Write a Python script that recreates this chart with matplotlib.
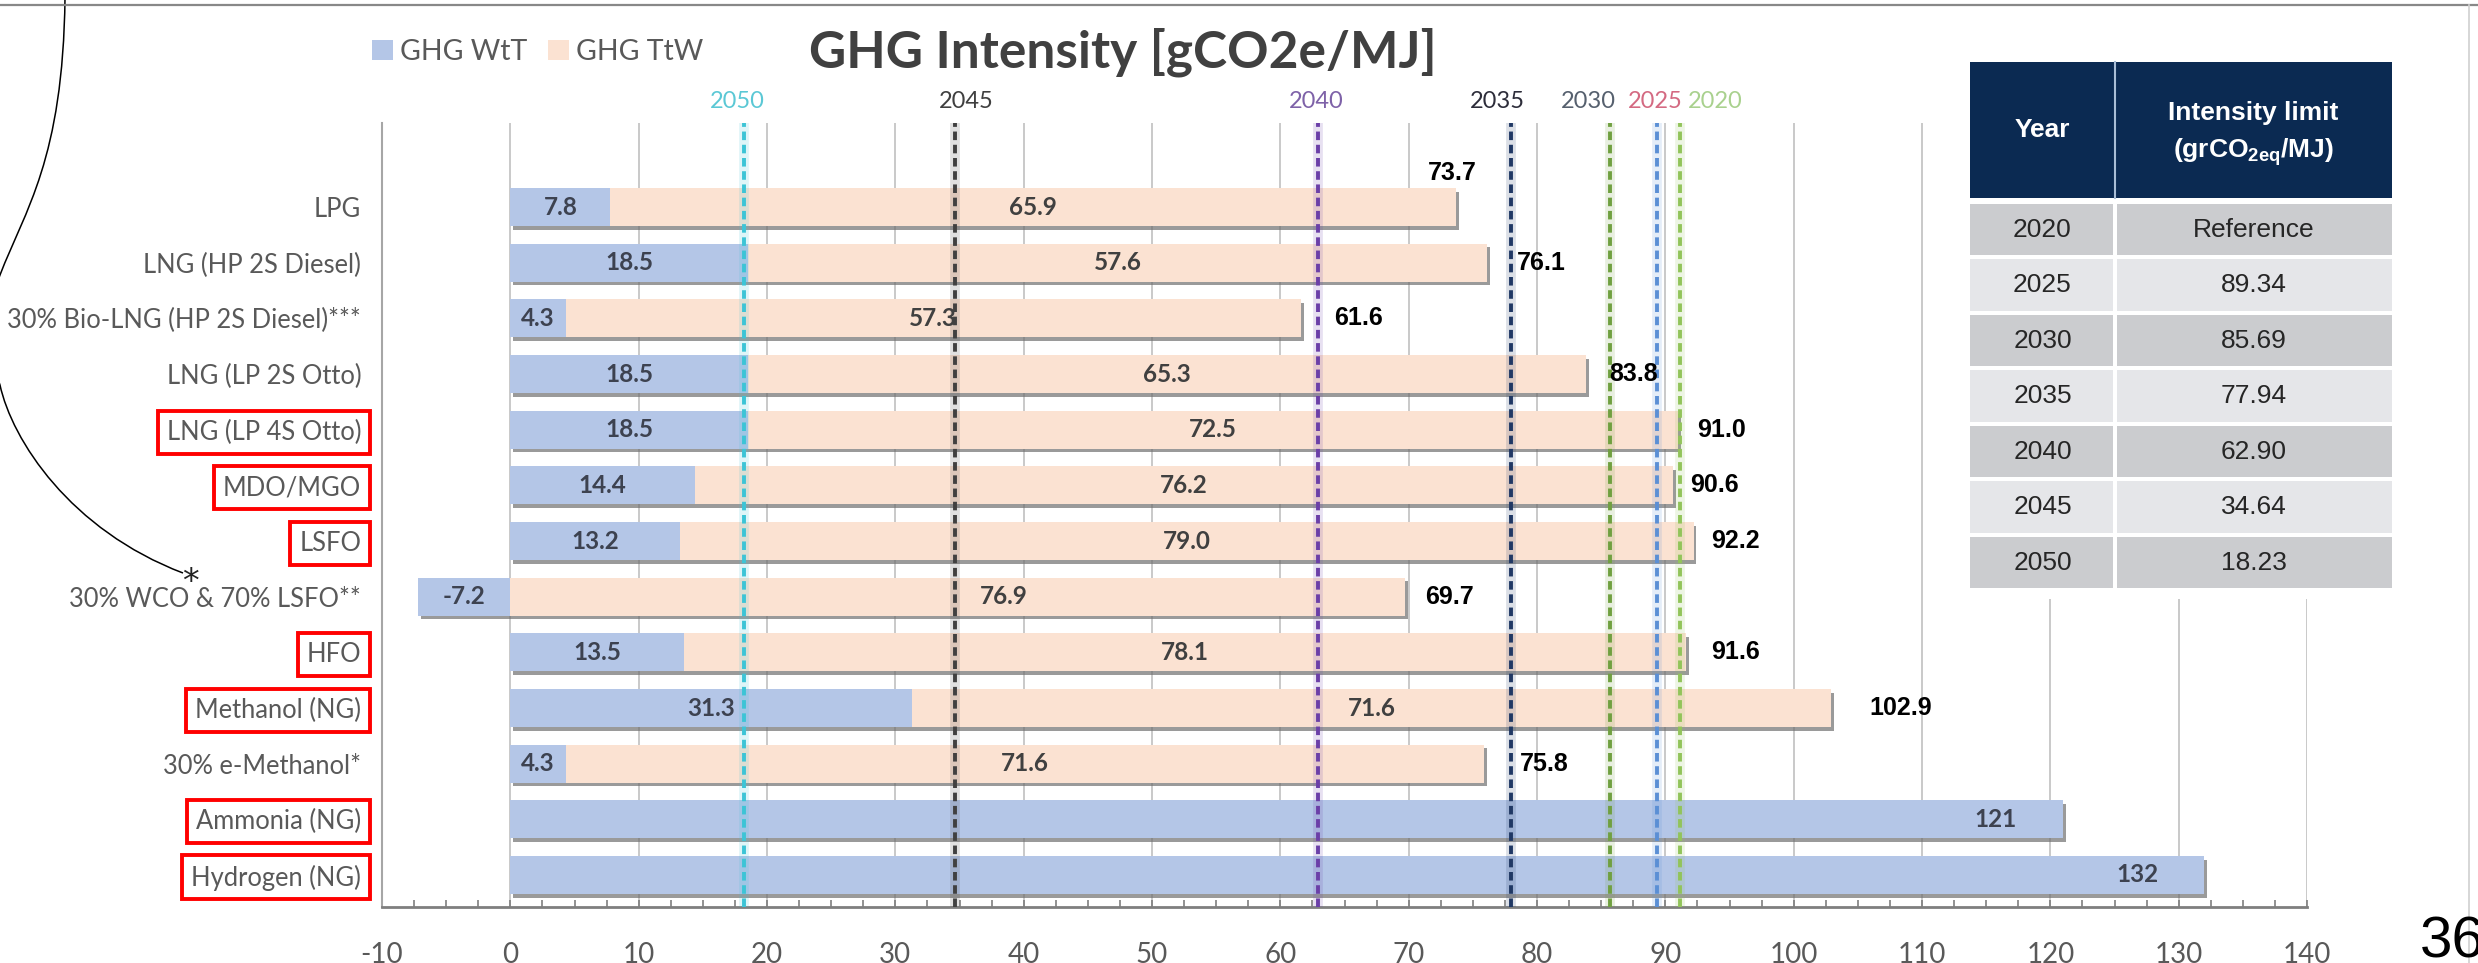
import numpy as np
import matplotlib
matplotlib.use("Agg")
import matplotlib.pyplot as plt
from matplotlib.patches import Rectangle, Patch, PathPatch
from matplotlib.path import Path

plt.rcParams["font.family"] = ["Lato", "DejaVu Sans"]
plt.rcParams["axes.unicode_minus"] = False
plt.rcParams["mathtext.fontset"] = "custom"
plt.rcParams["mathtext.rm"] = "Liberation Sans"
plt.rcParams["mathtext.bf"] = "Liberation Sans:bold"

# --- data ---------------------------------------------------------------
fuels = ["LPG", "LNG (HP 2S Diesel)", "30% Bio-LNG (HP 2S Diesel)***",
         "LNG (LP 2S Otto)", "LNG (LP 4S Otto)", "MDO/MGO", "LSFO",
         "30% WCO & 70% LSFO**", "HFO", "Methanol (NG)", "30% e-Methanol*",
         "Ammonia (NG)", "Hydrogen (NG)"]
wtt = [7.8, 18.5, 4.3, 18.5, 18.5, 14.4, 13.2, -7.2, 13.5, 31.3, 4.3, 121, 132]
ttw = [65.9, 57.6, 57.3, 65.3, 72.5, 76.2, 79.0, 76.9, 78.1, 71.6, 71.6, 0, 0]
totals = [73.7, 76.1, 61.6, 83.8, 91.0, 90.6, 92.2, 69.7, 91.6, 102.9, 75.8,
          None, None]
boxed = ["LNG (LP 4S Otto)", "MDO/MGO", "LSFO", "HFO", "Methanol (NG)",
         "Ammonia (NG)", "Hydrogen (NG)"]

limit_years = [2050, 2045, 2040, 2035, 2030, 2025, 2020]
limit_values = [18.23, 34.64, 62.90, 77.94, 85.69, 89.34, 91.16]

# --- style / layout -----------------------------------------------------
W, H = 2478, 963
BLUE = "#b4c6e7"
PEACH = "#fbe2d2"
GREY_TXT = "#595959"
BAR_H = 0.68
line_colors = ["#3cc4d6", "#404040", "#6b3fa8", "#203864", "#70a040",
               "#5b8fd5", "#92c45a"]
label_colors = ["#5bc8d5", "#404040", "#7e62a8", "#2d2d3a", "#56606e",
                "#d46a82", "#a9d18e"]
year_label_x = [17.7, 35.5, 62.8, 76.9, 84.0, 89.2, 93.9]
total_dx = [-2.2, 2.3, 2.6, 1.8, 1.5, 1.3, 1.4, 1.6, 2.0, 3.0, 2.9, 0, 0]
total_dy = [-0.62, 0, 0, 0, 0, 0, 0, 0, 0, 0, 0, 0, 0]

fig = plt.figure(figsize=(W / 100, H / 100), dpi=100)
ax = fig.add_axes([382 / W, (H - 907) / H, 1925 / W, (907 - 123) / H])

y = np.arange(len(fuels))
wtt_a = np.array(wtt)
ttw_a = np.array(ttw)
lo = np.minimum(wtt_a, 0)
hi = np.maximum(wtt_a + ttw_a, np.maximum(wtt_a, 0))

# soft drop shadow, then TtW stacked on WtT, WtT on top
ax.barh(y + 0.065, hi - lo, left=lo + 0.22, height=BAR_H, color="#6f6f6f",
        alpha=0.7, zorder=2)
ax.barh(y, ttw_a, left=wtt_a, height=BAR_H, color=PEACH, zorder=3)
ax.barh(y, wtt_a, height=BAR_H, color=BLUE, zorder=4)

for i in range(len(fuels)):
    if ttw[i] > 0:
        ax.text(wtt[i] / 2, i, f"{wtt[i]:.1f}", ha="center", va="center",
                fontsize=17.5, fontweight="bold", color="#3d4250", zorder=8)
        ax.text(max(wtt[i], 0) + ttw[i] / 2, i, f"{ttw[i]:.1f}", ha="center",
                va="center", fontsize=17.5, fontweight="bold", color="#404040",
                zorder=8)
    else:
        ax.text(wtt[i] - 3.6, i, f"{wtt[i]:.0f}", ha="right", va="center",
                fontsize=17.5, fontweight="bold", color="#3d4250", zorder=8)
    if totals[i] is not None:
        ax.text(totals[i] + total_dx[i], i + total_dy[i], f"{totals[i]:.1f}",
                ha="left", va="center", fontsize=18, fontweight="bold",
                family="Liberation Sans", color="black", zorder=8)

# FuelEU intensity limits
for v, yr, lc, tc, lx in zip(limit_values, limit_years, line_colors,
                             label_colors, year_label_x):
    ax.axvline(v, color=lc, lw=7, alpha=0.16, zorder=5)
    ax.axvline(v, color=lc, lw=2.8, ls=(0, (2.2, 1.2)), zorder=6)
    ax.text(lx, -1.89, str(yr), ha="center", va="center", fontsize=17,
            color=tc, clip_on=False)

ax.set_xlim(-10, 140)
ax.set_ylim(12.575, -1.51)
ax.set_xticks(np.arange(-10, 141, 10))
ax.set_xticks(np.arange(-10, 140.1, 2.5), minor=True)
ax.grid(axis="x", which="major", color="#c9c9c9", lw=1.4)
ax.set_axisbelow(True)
ax.tick_params(axis="x", which="both", direction="in", length=5, width=1.2,
               color="#7f7f7f", labelsize=20, labelcolor=GREY_TXT, pad=25)
ax.set_yticks(y)
ax.set_yticklabels(fuels)
ax.tick_params(axis="y", length=0, labelsize=18.4, labelcolor=GREY_TXT,
               pad=15)
for lab in ax.get_yticklabels():
    if lab.get_text() in boxed:
        lab.set_bbox(dict(boxstyle="square,pad=0.35", fc="none", ec="#ff0000",
                          lw=2.8))
for s in ("top", "right"):
    ax.spines[s].set_visible(False)
ax.spines["left"].set_color("#a6a6a6")
ax.spines["left"].set_linewidth(1.5)
ax.spines["bottom"].set_color("#7f7f7f")
ax.spines["bottom"].set_linewidth(2)

# title and legend
fig.text(809 / W, 1 - 52 / H, "GHG Intensity [gCO2e/MJ]", fontsize=37,
         fontweight="bold", color="#404040", ha="left", va="center")
handles = [Patch(fc=BLUE, ec="none", label="GHG WtT"),
           Patch(fc=PEACH, ec="none", label="GHG TtW")]
fig.legend(handles=handles, loc="center left",
           bbox_to_anchor=(372 / W, 1 - 52 / H), ncol=2, frameon=False,
           fontsize=20.5, handlelength=0.75, handleheight=0.75,
           handletextpad=0.25, columnspacing=0.7, borderpad=0,
           borderaxespad=0, labelcolor=GREY_TXT)

# overlay in pixel units: limit table, page frame, annotation curve
ov = fig.add_axes([0, 0, 1, 1], zorder=10)
ov.set_xlim(0, W)
ov.set_ylim(H, 0)
ov.axis("off")
ov.patch.set_alpha(0)

TX0, TSPLIT, TX1 = 1970, 2115, 2392
HEAD_Y0, HEAD_Y1 = 62, 198
ROW_Y0, ROW_H, GAP = 204, 55.5, 4
NAVY = "#0b2a52"
table_fs = 19

ov.add_patch(Rectangle((TX0 - 10, HEAD_Y0 - 8), TX1 - TX0 + 20, 545,
                       fc="white", ec="none"))
ov.add_patch(Rectangle((TX0, HEAD_Y0), TX1 - TX0, HEAD_Y1 - HEAD_Y0, fc=NAVY,
                       ec="none"))
ov.plot([TSPLIT, TSPLIT], [HEAD_Y0, HEAD_Y1], color="#a9bdd6", lw=1.5)
cx_year = (TX0 + TSPLIT) / 2
cx_val = (TSPLIT + TX1) / 2
ov.text(cx_year, 130, "Year", ha="center", va="center", color="white",
        fontsize=table_fs, fontweight="bold", family="Liberation Sans")
ov.text(cx_val, 113, "Intensity limit", ha="center", va="center",
        color="white", fontsize=table_fs, fontweight="bold",
        family="Liberation Sans")
ov.text(cx_val, 152, r"(grCO$_{\mathbf{2eq}}$/MJ)", ha="center", va="center",
        color="white", fontsize=table_fs, fontweight="bold",
        family="Liberation Sans")

table_rows = sorted(zip(limit_years, limit_values))
for i, (yr, v) in enumerate(table_rows):
    top = ROW_Y0 + i * ROW_H
    fc = "#cbcccf" if i % 2 == 0 else "#e5e6e9"
    ov.add_patch(Rectangle((TX0, top), TSPLIT - TX0 - 2, ROW_H - GAP, fc=fc,
                           ec="none"))
    ov.add_patch(Rectangle((TSPLIT + 2, top), TX1 - TSPLIT - 2, ROW_H - GAP,
                           fc=fc, ec="none"))
    txt = "Reference" if yr == 2020 else f"{v:.2f}"
    cy = top + (ROW_H - GAP) / 2
    ov.text(cx_year, cy, str(yr), ha="center", va="center", color="#262626",
            fontsize=table_fs, family="Liberation Sans")
    ov.text(cx_val, cy, txt, ha="center", va="center", color="#262626",
            fontsize=table_fs, family="Liberation Sans")

# slide frame and page number
ov.plot([0, W], [5, 5], color="#888888", lw=1.6)
ov.plot([2469, 2469], [5, H], color="#d0d0d0", lw=1.2)
ov.text(2420, 942, "36", fontsize=42, family="Liberation Sans", ha="left",
        va="center", color="black", clip_on=False)

# hand-drawn pointer to the WCO footnote
verts = [(65, -2), (63, 160), (25, 210), (0, 275),
         (-20, 327), (-12, 350), (0, 385),
         (12, 440), (70, 530), (183, 573)]
codes = [Path.MOVETO] + [Path.CURVE4] * 9
ov.add_patch(PathPatch(Path(verts, codes), fc="none", ec="black", lw=1.1))
ov.text(190, 582, "*", fontsize=24, ha="center", va="center", color="#222222",
        family="DejaVu Sans")

fig.savefig("out.png", dpi=100)
